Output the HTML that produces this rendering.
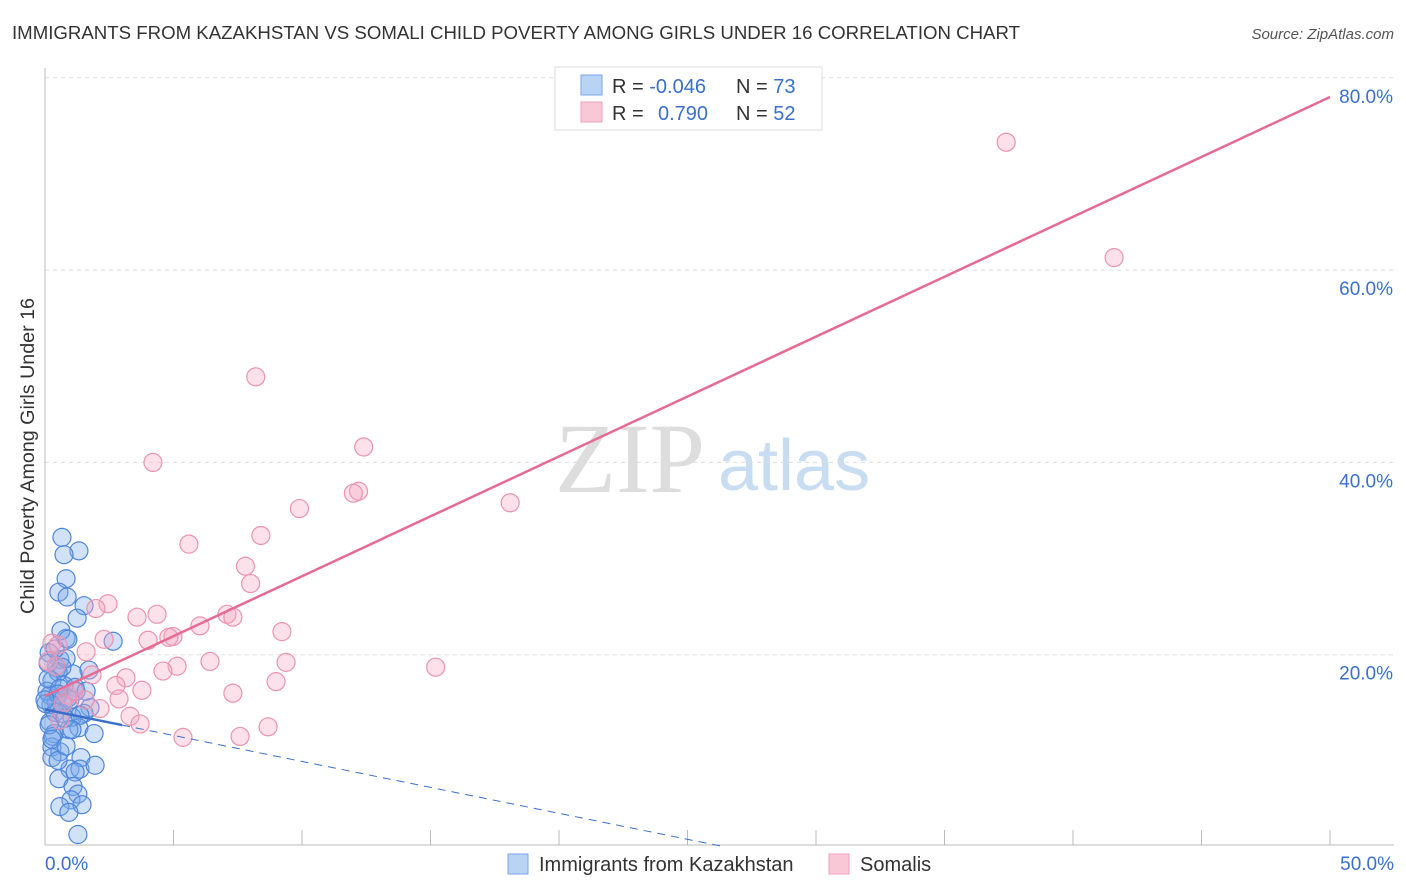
<!DOCTYPE html>
<html><head><meta charset="utf-8">
<style>
body{margin:0;background:#fff;font-family:"Liberation Sans",sans-serif;}
#wrap{position:relative;width:1406px;height:892px;overflow:hidden;}
</style></head>
<body>
<div id="wrap">
<svg id="svg" width="1406" height="892" xmlns="http://www.w3.org/2000/svg">
<text x="12" y="39" font-size="18" fill="#333" textLength="1008" lengthAdjust="spacingAndGlyphs">IMMIGRANTS FROM KAZAKHSTAN VS SOMALI CHILD POVERTY AMONG GIRLS UNDER 16 CORRELATION CHART</text>
<text x="1394" y="39" font-size="15" fill="#555" font-style="italic" text-anchor="end">Source: ZipAtlas.com</text>
<text x="555" y="492" font-size="100" fill="#ddd" font-family="Liberation Serif,serif">ZIP</text>
<text x="718" y="490" font-size="72" fill="#c8dcf2">atlas</text>
<g id="grid"></g><g id="axes"></g><g id="pts"></g><g id="lines"></g>
<text transform="translate(34,456) rotate(-90)" font-size="19" fill="#333" text-anchor="middle" textLength="316" lengthAdjust="spacingAndGlyphs">Child Poverty Among Girls Under 16</text>
<g>
<rect x="555" y="67" width="267" height="63" fill="#fff" stroke="#ddd"/>
<rect x="581" y="75" width="21" height="20" fill="#b9d3f5" stroke="#7aa6e6"/>
<rect x="581" y="102" width="21" height="20" fill="#f9c8d6" stroke="#eda3bb"/>
<text x="612" y="93" font-size="20" fill="#333">R = <tspan fill="#3a70cc">-0.046</tspan></text>
<text x="736" y="93" font-size="20" fill="#333">N = <tspan fill="#3a70cc">73</tspan></text>
<text x="612" y="120" font-size="20" fill="#333">R = <tspan fill="#3a70cc" x="658">0.790</tspan></text>
<text x="736" y="120" font-size="20" fill="#333">N = <tspan fill="#3a70cc">52</tspan></text>
</g>
<g>
<rect x="508" y="854" width="20" height="20" fill="#b9d3f5" stroke="#7aa6e6"/>
<text x="539" y="871" font-size="20" fill="#333">Immigrants from Kazakhstan</text>
<rect x="829" y="854" width="20" height="20" fill="#f9c8d6" stroke="#eda3bb"/>
<text x="860" y="871" font-size="20" fill="#333">Somalis</text>
</g>
</svg>
</div>
<script>
const blueX=[0.66,1.32,0.74,0.82,0.54,0.86,1.52,1.25,2.65,0.82,0.62,0.16,0.58,0.47,1.71,1.09,0.27,0.74,1.17,0.19,0.89,0.43,1.75,0.23,0.66,1.52,1.05,0.19,1.32,1.91,0.93,0.35,0.27,0.58,1.40,0.27,0.97,1.36,1.95,0.54,1.17,1.09,1.28,1.01,0.58,1.44,0.93,1.28,0.12,0.08,0.39,0.78,0.51,0.04,0.12,0.58,0.97,0.31,0.82,0.16,0.51,0.66,1.21,0.39,1.36,0.0,0.89,0.27,0.70,1.60,0.51,1.05,0.82];
const blueY=[32.2,30.8,30.4,27.9,26.5,26.0,25.1,23.8,21.4,21.7,22.5,20.2,19.5,18.6,18.4,18.0,17.3,16.8,16.6,15.8,15.5,15.1,14.5,14.8,13.9,13.9,13.5,13.0,12.4,11.8,12.2,11.8,10.4,9.9,9.3,9.3,8.1,8.1,8.5,7.1,7.8,6.3,5.5,4.9,4.2,4.4,3.6,1.3,19.1,16.2,14.0,13.4,18.2,14.9,17.5,16.5,15.3,11.5,19.6,12.7,15.9,18.7,16.2,20.6,13.7,15.3,21.6,11.2,14.8,16.2,9.0,12.2,10.5];
const pinkX=[37.4,41.6,8.2,12.4,4.2,12.2,12.0,18.1,9.9,5.6,8.4,7.8,8.0,2.45,1.98,4.36,3.58,7.08,7.31,6.03,4.98,4.82,9.22,1.60,4.01,2.30,6.42,9.38,5.14,4.59,15.2,1.83,3.15,2.76,8.99,3.77,7.31,0.89,0.70,2.88,2.14,3.31,3.70,8.68,5.37,7.59,0.27,0.12,0.43,1.13,0.58,1.56,0.51];
const pinkY=[73.3,61.3,48.9,41.6,40.0,37.0,36.8,35.8,35.2,31.5,32.4,29.2,27.4,25.3,24.8,24.2,23.9,24.2,23.9,23.0,21.9,21.8,22.4,20.3,21.5,21.6,19.3,19.2,18.8,18.3,18.7,17.9,17.6,16.8,17.2,16.3,16.0,15.8,14.9,15.4,14.4,13.6,12.8,12.5,11.4,11.5,21.2,19.3,18.8,16.2,13.2,15.3,21.0];
const yTicks=[20,40,60,80];
const yTickLabels=["20.0%","40.0%","60.0%","80.0%"];
const xTickLabels=["0.0%","50.0%"];
const pinkFit=[15.7,78.0];
const blueFit=[14.3,-0.54];
const NS="http://www.w3.org/2000/svg";
const X=v=>45+v*25.7, Y=v=>847-v*9.615;
function mk(tag,attrs,parent){const e=document.createElementNS(NS,tag);for(const k in attrs)e.setAttribute(k,attrs[k]);parent.appendChild(e);return e;}
const grid=document.getElementById('grid'),axes=document.getElementById('axes'),pts=document.getElementById('pts'),lines=document.getElementById('lines');
yTicks.forEach((t,i)=>{
 const l=mk('line',{x1:45,x2:1394,y1:Y(t),y2:Y(t),stroke:'#ddd','stroke-dasharray':'4,4'},grid);
 
 
 const tx=mk('text',{x:1393,y:Y(t)+25,'font-size':19,fill:'#3a70cc','text-anchor':'end'},axes);
 tx.textContent=yTickLabels[i];
 
 
});
const ax=mk('line',{x1:45,x2:1394,y1:845,y2:845,stroke:'#bbb'},axes);


const ay=mk('line',{x1:45,x2:45,y1:68,y2:845,stroke:'#bbb'},axes);


for(let i=0;i<=10;i++){const t=mk('line',{x1:X(i*5),x2:X(i*5),y1:830,y2:845,stroke:'#bbb'},axes);
 
 }
[[0,'start',45],[50,'end',1394]].forEach((d,i)=>{const t=mk('text',{x:d[2],y:870,'font-size':19,fill:'#3a70cc','text-anchor':d[1]},axes);t.textContent=xTickLabels[i];
 
 });
blueX.forEach((x,i)=>{const c=mk('circle',{cx:X(x),cy:Y(blueY[i]),r:9,fill:'rgba(120,170,235,0.35)',stroke:'#4f86d9','stroke-width':1.2},pts);
 
 });
pinkX.forEach((x,i)=>{const c=mk('circle',{cx:X(x),cy:Y(pinkY[i]),r:9,fill:'rgba(245,170,195,0.35)',stroke:'#ea93b0','stroke-width':1.2},pts);
 
 });
const pl=mk('line',{x1:X(0),y1:Y(pinkFit[0]),x2:X(50),y2:Y(pinkFit[1]),stroke:'#e56b95','stroke-width':2.5},lines);


const bl=mk('line',{x1:X(0),y1:Y(blueFit[0]),x2:X(3),y2:Y(blueFit[0]+blueFit[1]*3),stroke:'#3a70cc','stroke-width':2.5},lines);


const xe=-blueFit[0]/blueFit[1];
const bd=mk('line',{x1:X(3),y1:Y(blueFit[0]+blueFit[1]*3),x2:X(xe),y2:Y(0),stroke:'#3a70cc','stroke-width':1,'stroke-dasharray':'8,6'},lines);


</script>
</body></html>
